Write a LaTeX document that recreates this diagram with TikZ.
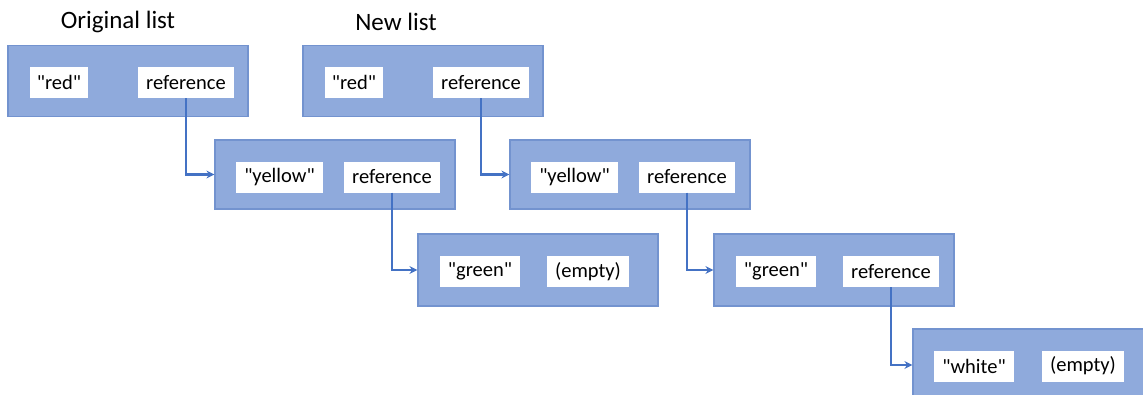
\documentclass[tikz,border=0pt]{standalone}
\usepackage{fontspec}
\setmainfont{Carlito}
\usetikzlibrary{arrows.meta}
\definecolor{boxfill}{HTML}{8FAADC}
\definecolor{boxline}{HTML}{7393CF}
\definecolor{arrowc}{HTML}{4472C4}
\newcommand{\qq}[1]{\textquotedbl#1\textquotedbl}
\begin{document}
\begin{tikzpicture}[x=1pt,y=-1pt,
  listbox/.style={rectangle, fill=boxfill, draw=boxline, line width=1.2pt, minimum width=240pt, minimum height=71pt, inner sep=0pt},
  cell/.style={rectangle, fill=white, minimum height=31pt, inner sep=0pt, text=black, font=\fontsize{20.5}{24}\selectfont},
  title/.style={font=\fontsize{25}{30}\selectfont, text=black, inner sep=0pt},
  link/.style={draw=arrowc, line width=2.3pt, -{Stealth[length=8pt,width=8pt]}}]
\useasboundingbox (0,0) rectangle (1143,394);
\clip (0,0) rectangle (1143,394);
% titles
\node[title] (t1) at (118,22) {Original list};
\node[title] (t2) at (396,22) {New list};
% list boxes
\node[listbox] (b1) at (128,81) {};
\node[listbox] (b2) at (423,81) {};
\node[listbox, minimum height=69pt] (y1) at (335,174.5) {};
\node[listbox, minimum height=69pt] (y2) at (630,174.5) {};
\node[listbox, minimum height=72pt] (g1) at (538,270) {};
\node[listbox, minimum height=72pt] (g2) at (834,270) {};
\node[listbox, minimum height=72pt] (w2) at (1033,365) {};
% cells
\node[cell, minimum width=58pt] (r1) at (59,82.5) {\qq{red}};
\node[cell, minimum width=96pt] (rr1) at (186,82.5) {reference};
\node[cell, minimum width=58pt] (r2) at (354,82.5) {\qq{red}};
\node[cell, minimum width=96pt] (rr2) at (481,82.5) {reference};
\node[cell, minimum width=87pt] (ye1) at (279.5,177) {\qq{yellow}};
\node[cell, minimum width=96pt] (yr1) at (392,177) {reference};
\node[cell, minimum width=87pt] (ye2) at (574.5,177) {\qq{yellow}};
\node[cell, minimum width=96pt] (yr2) at (687,177) {reference};
\node[cell, minimum width=80pt] (gr1) at (480,271.5) {\qq{green}};
\node[cell, minimum width=82pt] (ge1) at (588,271.5) {(empty)};
\node[cell, minimum width=80pt] (gr2) at (776,271.5) {\qq{green}};
\node[cell, minimum width=96pt] (gref2) at (891,271.5) {reference};
\node[cell, minimum width=80pt] (wh) at (974,366) {\qq{white}};
\node[cell, minimum width=82pt] (we) at (1083,366) {(empty)};
% links
\draw[link] (rr1.south) |- (y1.west);
\draw[link] (yr1.south) |- (g1.west);
\draw[link] (rr2.south) |- (y2.west);
\draw[link] (yr2.south) |- (g2.west);
\draw[link] (gref2.south) |- (w2.west);
\end{tikzpicture}
\end{document}
